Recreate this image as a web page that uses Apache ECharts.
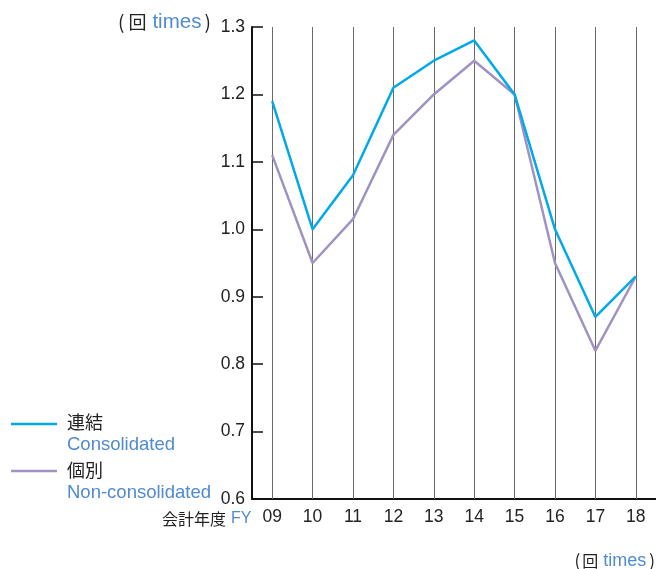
<!DOCTYPE html>
<html>
<head>
<meta charset="utf-8">
<script src="https://cdn.jsdelivr.net/npm/echarts@6/dist/echarts.min.js"></script>
<style>
  html, body { margin: 0; padding: 0; background: #fff; }
  #chart { width: 656px; height: 569px; }
</style>
</head>
<body>
<div id="chart"></div>
<script>
const years = ["09", "10", "11", "12", "13", "14", "15", "16", "17", "18"];
const consolidated = [1.19, 1.0, 1.08, 1.21, 1.25, 1.28, 1.2, 1.0, 0.87, 0.93];
const nonConsolidated = [1.11, 0.95, 1.015, 1.14, 1.2, 1.25, 1.2, 0.95, 0.82, 0.93];

const blue = "#00A9E8";
const purple = "#A092C4";
const labelBlue = "#4F8BCF";
const font = "'Liberation Sans', Arial, 'Noto Sans CJK JP', sans-serif";
const jpFont = "'Noto Sans CJK JP', sans-serif";

const chart = echarts.init(document.getElementById("chart"));

chart.setOption({
  animation: false,
  grid: { left: 252, top: 27, width: 404, bottom: 70 },
  xAxis: {
    type: "category",
    data: years,
    boundaryGap: true,
    axisLine: { lineStyle: { color: "#111", width: 2 } },
    axisTick: {
      show: true,
      interval: 0,
      alignWithLabel: true,
      inside: true,
      length: 472,
      lineStyle: { color: "#6a6a6a", width: 1 },
    },
    axisLabel: { color: "#222", fontSize: 17.5, fontFamily: font, margin: 9 },
    splitLine: { show: false },
  },
  yAxis: {
    type: "value",
    min: 0.6,
    max: 1.3,
    interval: 0.1,
    axisLine: { show: true, lineStyle: { color: "#111", width: 2 } },
    axisTick: { show: true, inside: true, length: 11, lineStyle: { color: "#111", width: 1.5 } },
    axisLabel: {
      color: "#222",
      fontSize: 17.5,
      fontFamily: font,
      margin: 7,
      formatter: (v) => v.toFixed(1),
    },
    splitLine: { show: false },
  },
  series: [
    {
      name: "個別",
      type: "line",
      data: nonConsolidated,
      symbol: "none",
      lineStyle: { color: purple, width: 2.5 },
    },
    {
      name: "連結",
      type: "line",
      data: consolidated,
      symbol: "none",
      lineStyle: { color: blue, width: 2.5 },
    },
  ],
  graphic: [
    {
      type: "text",
      left: 118,
      top: 12,
      style: {
        text: "{p|(}{k|回}{b|times}{p|)}",
        rich: {
          p: { fontSize: 19, fontFamily: jpFont, fill: "#222", padding: [0, 4, 0, 0] },
          k: { fontSize: 18, fontFamily: jpFont, fill: "#222", padding: [0, 6, 0, 0] },
          b: { fontSize: 20.5, fontFamily: font, fill: labelBlue, padding: [0, 3, 0, 0] },
        },
      },
    },
    {
      type: "text",
      right: 1,
      top: 552,
      style: {
        text: "{p|(}{k|回}{b|times}{q|)}",
        rich: {
          p: { fontSize: 17, fontFamily: jpFont, fill: "#222", padding: [0, 2, 0, 0] },
          q: { fontSize: 17, fontFamily: jpFont, fill: "#222" },
          k: { fontSize: 16, fontFamily: jpFont, fill: "#222", padding: [0, 5, 0, 0] },
          b: { fontSize: 18, fontFamily: font, fill: labelBlue, padding: [0, 3, 0, 0] },
        },
      },
    },
    {
      type: "text",
      left: 162,
      top: 511,
      style: {
        text: "{k|会計年度}{b|FY}",
        rich: {
          k: { fontSize: 16, fontFamily: jpFont, fill: "#222", padding: [0, 5, 0, 0] },
          b: { fontSize: 16, fontFamily: font, fill: labelBlue },
        },
      },
    },
    {
      type: "line",
      shape: { x1: 11, y1: 424, x2: 57, y2: 424 },
      style: { stroke: blue, lineWidth: 2.5 },
    },
    {
      type: "text",
      left: 67,
      top: 413,
      style: { text: "連結", fontSize: 18, fontFamily: jpFont, fill: "#222" },
    },
    {
      type: "text",
      left: 67,
      top: 436,
      style: { text: "Consolidated", fontSize: 18.5, fontFamily: font, fill: labelBlue },
    },
    {
      type: "line",
      shape: { x1: 11, y1: 471, x2: 57, y2: 471 },
      style: { stroke: purple, lineWidth: 2.5 },
    },
    {
      type: "text",
      left: 67,
      top: 461,
      style: { text: "個別", fontSize: 18, fontFamily: jpFont, fill: "#222" },
    },
    {
      type: "text",
      left: 67,
      top: 484,
      style: { text: "Non-consolidated", fontSize: 18.5, fontFamily: font, fill: labelBlue },
    },
  ],
});
</script>
</body>
</html>
